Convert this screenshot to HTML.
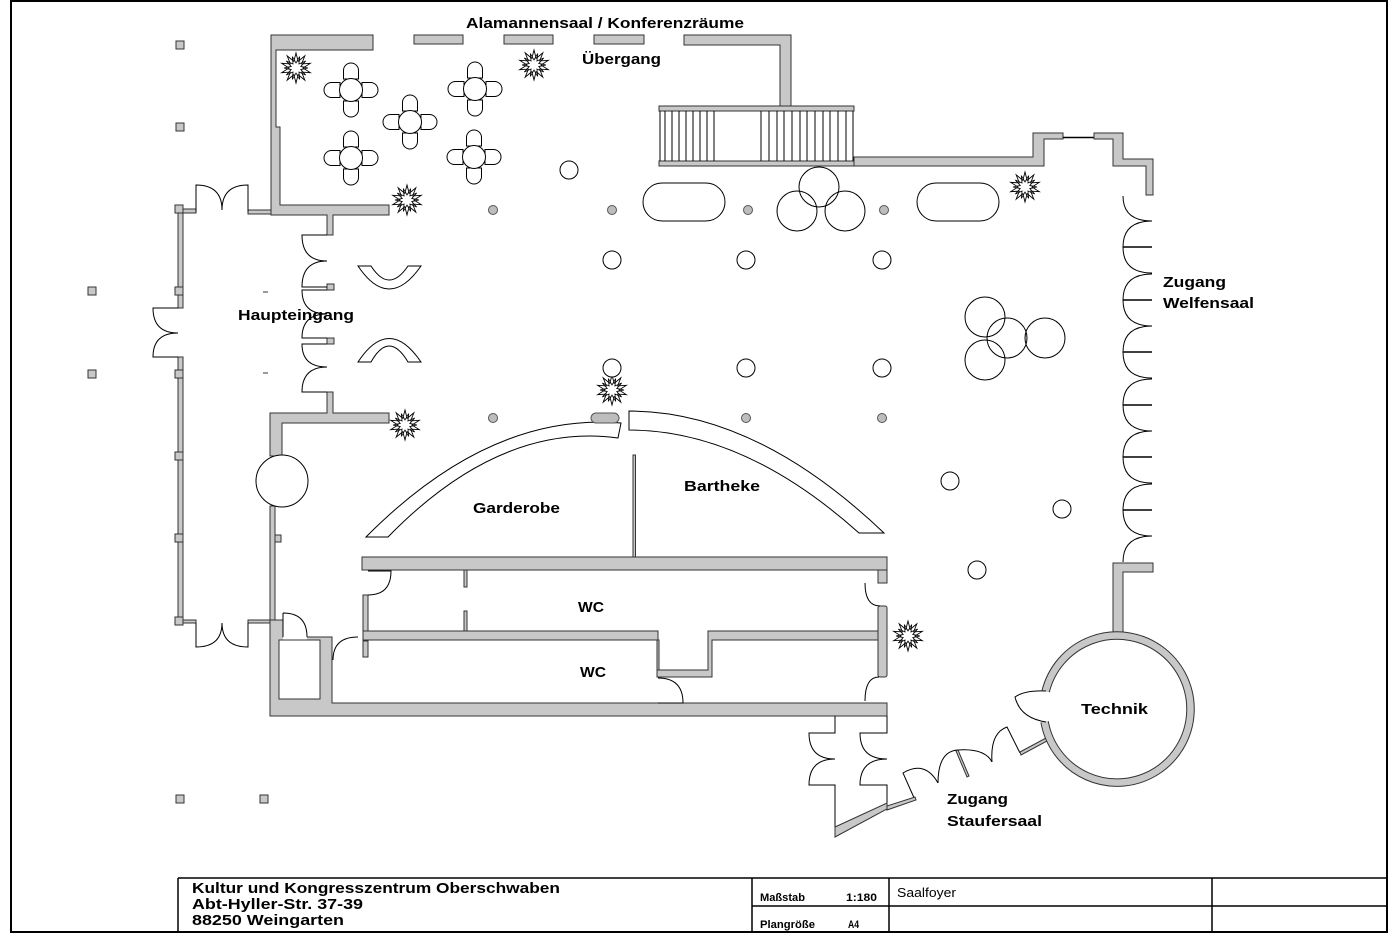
<!DOCTYPE html>
<html><head><meta charset="utf-8">
<style>
html,body{margin:0;padding:0;background:#fff;}
svg{display:block;}
text{font-family:"Liberation Sans",Arial,sans-serif;font-weight:bold;fill:#000;}
.w{fill:#c8c8c8;stroke:#333;stroke-width:1;}
.l{fill:none;stroke:#000;stroke-width:1;}
.c{fill:#fff;stroke:#000;stroke-width:1;}
.d{fill:#bdbdbd;stroke:#555;stroke-width:1;}
</style></head><body>
<svg width="1400" height="933" viewBox="0 0 1400 933" xmlns="http://www.w3.org/2000/svg">
<defs>
<g id="plant">
<polygon points="0,-15 2.16,-6.66 8.82,-12.14 5.66,-4.11 14.27,-4.64 7,0 14.27,4.64 5.66,4.11 8.82,12.14 2.16,6.66 0,15 -2.16,6.66 -8.82,12.14 -5.66,4.11 -14.27,4.64 -7,0 -14.27,-4.64 -5.66,-4.11 -8.82,-12.14 -2.16,-6.66" fill="#fff" stroke="#000" stroke-width="0.9"/>
<polygon points="3.71,-11.41 2.94,-4.05 9.71,-7.05 4.76,-1.55 12,0 4.76,1.55 9.71,7.05 2.94,4.05 3.71,11.41 0,5 -3.71,11.41 -2.94,4.05 -9.71,7.05 -4.76,1.55 -12,0 -4.76,-1.55 -9.71,-7.05 -2.94,-4.05 -3.71,-11.41 0,-5" fill="none" stroke="#000" stroke-width="0.8"/>
</g>
<path id="ch" d="M-7.5,-11 V-19.5 A7.5,7.5 0 0 1 7.5,-19.5 V-11 Z" fill="#fff" stroke="#000" stroke-width="1"/>
<g id="tbl">
<use href="#ch"/>
<use href="#ch" transform="rotate(90)"/>
<use href="#ch" transform="rotate(180)"/>
<use href="#ch" transform="rotate(270)"/>
<circle r="11.5" fill="#fff" stroke="#000" stroke-width="1"/>
</g>
</defs>

<!-- frame -->
<rect x="11" y="1" width="1376" height="931" fill="none" stroke="#000" stroke-width="2"/>

<!-- free columns -->
<g class="w">
<rect x="176" y="41" width="8" height="8"/>
<rect x="176" y="123" width="8" height="8"/>
<rect x="88" y="287" width="8" height="8"/>
<rect x="88" y="370" width="8" height="8"/>
<rect x="176" y="795" width="8" height="8"/>
<rect x="260" y="795" width="8" height="8"/>
</g>

<!-- top-left cafe walls -->
<path class="w" d="M271,35 H373 V50 H276 V127 H280 V205 H389 V215 H333 V235 H327 V215 H271 Z"/>
<rect class="w" x="248" y="210" width="23" height="4"/>
<rect class="w" x="414" y="35" width="49" height="9"/>
<rect class="w" x="504" y="35" width="49" height="9"/>
<rect class="w" x="594" y="35" width="50" height="9"/>
<path class="w" d="M684,35 H791 V106 H780 V45 H684 Z"/>

<!-- stair -->
<rect class="w" x="659" y="106" width="195" height="5"/>
<rect class="w" x="659" y="161" width="195" height="5"/>
<g class="l">
<path d="M660,111V161 M665,111V161 M672,111V161 M679,111V161 M686,111V161 M693,111V161 M700,111V161 M707,111V161 M714,111V161
M761,111V161 M769,111V161 M777,111V161 M784,111V161 M792,111V161 M800,111V161 M807,111V161 M815,111V161 M823,111V161 M830,111V161 M838,111V161 M846,111V161 M853,111V161"/>
</g>

<!-- right walls -->
<path class="w" d="M854,157 H1033 V133 H1063 V139 H1044 V166 H854 Z"/>
<line x1="1063" y1="137.5" x2="1094" y2="137.5" stroke="#000" stroke-width="1.5"/>
<path class="w" d="M1094,133 H1123 V159 H1153 V195 H1146 V166 H1113 V139 H1094 Z"/>
<path class="w" d="M1113,563 H1153 V572 H1123 V636 H1113 Z"/>

<!-- Welfensaal doors -->
<g class="l">
<path d="M1123,196 Q1123,221 1152,221"/>
<path d="M1152,221 Q1123,221 1123,247 Q1123,273 1152,273"/>
<path d="M1152,274 Q1123,274 1123,300 Q1123,326 1152,326"/>
<path d="M1152,326 Q1123,326 1123,352 Q1123,378 1152,378"/>
<path d="M1152,379 Q1123,379 1123,405 Q1123,431 1152,431"/>
<path d="M1152,431 Q1123,431 1123,457 Q1123,483 1152,483"/>
<path d="M1152,484 Q1123,484 1123,510 Q1123,536 1152,536"/>
<path d="M1152,536 Q1123,536 1123,562"/>
</g>
<g stroke="#000" stroke-width="1.6">
<line x1="1123" y1="247" x2="1152" y2="247"/>
<line x1="1123" y1="300" x2="1152" y2="300"/>
<line x1="1123" y1="352" x2="1152" y2="352"/>
<line x1="1123" y1="405" x2="1152" y2="405"/>
<line x1="1123" y1="457" x2="1152" y2="457"/>
<line x1="1123" y1="510" x2="1152" y2="510"/>
</g>

<!-- left outer wall -->
<g class="w">
<rect x="178" y="209" width="5" height="99"/>
<rect x="178" y="357" width="5" height="265"/>
<rect x="183" y="209" width="13" height="4"/>
<rect x="183" y="620" width="13" height="3"/>
<rect x="248" y="620" width="22" height="3"/>
<rect x="175" y="205" width="8" height="8"/>
<rect x="175" y="287" width="8" height="8"/>
<rect x="175" y="370" width="8" height="8"/>
<rect x="175" y="452" width="8" height="8"/>
<rect x="175" y="534" width="8" height="8"/>
<rect x="175" y="617" width="8" height="8"/>
</g>
<g class="l">
<!-- top door -->
<path d="M196,212 V185 Q222,185 222,210 M248,212 V185 Q222,185 222,210"/>
<!-- bottom door -->
<path d="M196,623 V647 Q222,647 222,623 M248,623 V647 Q222,647 222,623"/>
<!-- left entrance door -->
<path d="M178,308 H153 Q153,333 178,333 Q153,333 153,357 H178"/>
</g>

<!-- Haupteingang inner wall -->
<g class="w">
<rect x="327" y="284" width="7" height="6"/>
<rect x="327" y="338" width="7" height="6"/>
<path d="M327,392 H333 V413 H389 V423 H282 V456 H270 V413 H327 Z"/>
<rect x="270" y="506" width="5" height="114"/>
<rect x="275" y="535" width="6" height="7"/>
</g>
<g class="l">
<path d="M327,235 H302 Q302,261 327,261 Q302,261 302,287 H327"/>
<path d="M327,290 H302 Q302,314 327,314 Q302,314 302,338 H327"/>
<path d="M327,344 H302 Q302,367 327,367 Q302,367 302,392 H327"/>
</g>
<circle class="c" cx="282" cy="481" r="26"/>
<g stroke="#333" stroke-width="1"><line x1="263" y1="292" x2="268" y2="292"/><line x1="263" y1="373" x2="268" y2="373"/></g>

<!-- benches -->
<path class="c" d="M358,266 Q389,312 421,266 H408 Q389,294 371,266 Z"/>
<path class="c" d="M358,362 Q389,315 421,362 H408 Q389,330 371,362 Z"/>

<!-- lower left block + bottom wall -->
<path class="w" fill-rule="evenodd" d="M270,620 H283 V637 H332 V703 H887 V716 H270 Z M279,640 V699 H320 V640 Z"/>
<rect x="283" y="620" width="24" height="20" fill="#fff"/>
<path class="l" d="M283,613 V637 M283,613 Q307,613 307,637"/>
<line x1="279" y1="640" x2="320" y2="640" stroke="#333"/>

<!-- WC block -->
<g class="w">
<rect x="362" y="557" width="525" height="13"/>
<rect x="878" y="570" width="9" height="13"/>
<rect x="878" y="606" width="9" height="71" rx="2"/>
<rect x="363" y="595" width="5" height="37"/>
<rect x="363" y="631" width="295" height="9"/>
<path d="M708,631 H878 V640 H712 V677 H657 V670 H708 Z"/>
<rect x="657" y="640" width="2" height="30"/>
<rect x="363" y="641" width="5" height="16"/>
<rect x="464" y="570" width="3" height="17"/>
<rect x="464" y="611" width="3" height="20"/>
<rect x="633" y="455" width="2.5" height="102"/>
</g>
<g class="l">
<path d="M368,571 H391 Q391,595 368,595"/>
<path d="M333,660 Q333,637 358,637"/>
<path d="M865,583 Q865,606 880,606"/>
<path d="M879,677 Q865,677 865,701"/>
<path d="M658,678 Q683,678 683,703 H658"/>
</g>

<!-- arches -->
<path class="c" d="M366,537 Q490,412 621,423 L618,438 Q500,422 388,537 Z"/>
<path class="c" d="M629,411 Q756,411 884,533 L859,533 Q744,430 629,430 Z"/>
<rect class="d" x="591" y="413" width="28" height="10" rx="5"/>

<!-- Staufersaal corridor -->
<g class="l">
<path d="M835,716 V733 H809 Q809,759 835,759 Q809,759 809,785 H835 V837"/>
<path d="M887,716 V733 H860 Q860,759 887,759 Q860,759 860,785 H887 V805"/>
<path d="M915,800 L903,773 Q925,760 938,783"/>
<path d="M938,783 Q938,752 957,750 Q985,748 992,762"/>
<path d="M992,762 Q990,733 1007,727 L1020,753"/>
</g>
<path class="w" d="M835,827 L887,803 L887,809 L835,837 Z"/>
<path class="w" d="M887,806 L915,797 L916,800 L887,810 Z"/>
<path class="w" d="M956,751 L958,750 L969,776 L967,777 Z"/>
<path class="w" d="M1020,752 L1046,738 L1047,741 L1021,755 Z"/>

<!-- Technik -->
<path d="M1045.7,691.2 A73.5,73.5 0 1 1 1044.6,721.8" fill="none" stroke="#333" stroke-width="8.5"/>
<path d="M1045.7,691.2 A73.5,73.5 0 1 1 1044.6,721.8" fill="none" stroke="#c8c8c8" stroke-width="6.5"/>
<path class="l" d="M1046,691 Q1025,690 1015,697 Q1020,718 1046,722"/>

<!-- tables -->
<use href="#tbl" x="351" y="90"/>
<use href="#tbl" x="475" y="89"/>
<use href="#tbl" x="410" y="122"/>
<use href="#tbl" x="351" y="158"/>
<use href="#tbl" x="474" y="157"/>

<!-- plants -->
<use href="#plant" x="296" y="68"/>
<use href="#plant" x="534" y="65"/>
<use href="#plant" x="407" y="200"/>
<use href="#plant" x="405" y="425"/>
<use href="#plant" x="612" y="390"/>
<use href="#plant" x="1025" y="187"/>
<use href="#plant" x="908" y="636"/>

<!-- capsules -->
<rect class="c" x="643" y="183" width="82" height="38" rx="19"/>
<rect class="c" x="917" y="183" width="82" height="38" rx="19"/>

<!-- big circles -->
<g class="l">
<circle cx="819" cy="187" r="20"/>
<circle cx="797" cy="211" r="20"/>
<circle cx="845" cy="211" r="20"/>
<circle cx="985" cy="317" r="20"/>
<circle cx="1007" cy="338" r="20"/>
<circle cx="1045" cy="338" r="20"/>
<circle cx="985" cy="360" r="20"/>
</g>
<!-- small circles -->
<g class="c">
<circle cx="569" cy="170" r="9"/>
<circle cx="612" cy="260" r="9"/>
<circle cx="746" cy="260" r="9"/>
<circle cx="882" cy="260" r="9"/>
<circle cx="612" cy="368" r="9"/>
<circle cx="746" cy="368" r="9"/>
<circle cx="882" cy="368" r="9"/>
<circle cx="950" cy="481" r="9"/>
<circle cx="1062" cy="509" r="9"/>
<circle cx="977" cy="570" r="9"/>
</g>
<g class="d">
<circle cx="493" cy="210" r="4.5"/>
<circle cx="612" cy="210" r="4.5"/>
<circle cx="748" cy="210" r="4.5"/>
<circle cx="884" cy="210" r="4.5"/>
<circle cx="493" cy="418" r="4.5"/>
<circle cx="746" cy="418" r="4.5"/>
<circle cx="882" cy="418" r="4.5"/>
</g>

<!-- labels -->
<g font-size="15">
<text x="466" y="28" textLength="278" lengthAdjust="spacingAndGlyphs">Alamannensaal / Konferenzräume</text>
<text x="582" y="64" textLength="79" lengthAdjust="spacingAndGlyphs">Übergang</text>
<text x="238" y="320" textLength="116" lengthAdjust="spacingAndGlyphs">Haupteingang</text>
<text x="473" y="513" textLength="87" lengthAdjust="spacingAndGlyphs">Garderobe</text>
<text x="684" y="491" textLength="76" lengthAdjust="spacingAndGlyphs">Bartheke</text>
<text x="578" y="612" textLength="26" lengthAdjust="spacingAndGlyphs">WC</text>
<text x="580" y="677" textLength="26" lengthAdjust="spacingAndGlyphs">WC</text>
<text x="1163" y="287" textLength="63" lengthAdjust="spacingAndGlyphs">Zugang</text>
<text x="1163" y="308" textLength="91" lengthAdjust="spacingAndGlyphs">Welfensaal</text>
<text x="1081" y="714" textLength="67" lengthAdjust="spacingAndGlyphs">Technik</text>
<text x="947" y="804" textLength="61" lengthAdjust="spacingAndGlyphs">Zugang</text>
<text x="947" y="826" textLength="95" lengthAdjust="spacingAndGlyphs">Staufersaal</text>
</g>

<!-- title block -->
<g stroke="#000" stroke-width="1.5">
<line x1="178" y1="878" x2="1387" y2="878"/>
<line x1="178" y1="878" x2="178" y2="932"/>
<line x1="752" y1="878" x2="752" y2="932"/>
<line x1="889" y1="878" x2="889" y2="932"/>
<line x1="1212" y1="878" x2="1212" y2="932"/>
<line x1="752" y1="906" x2="1387" y2="906"/>
</g>
<g font-size="15">
<text x="192" y="893" textLength="368" lengthAdjust="spacingAndGlyphs">Kultur und Kongresszentrum Oberschwaben</text>
<text x="192" y="909" textLength="171" lengthAdjust="spacingAndGlyphs">Abt-Hyller-Str. 37-39</text>
<text x="192" y="925" textLength="152" lengthAdjust="spacingAndGlyphs">88250 Weingarten</text>
</g>
<g font-size="11">
<text x="760" y="901" textLength="45" lengthAdjust="spacingAndGlyphs">Maßstab</text>
<text x="846" y="901" textLength="31" lengthAdjust="spacingAndGlyphs">1:180</text>
<text x="760" y="928" textLength="55" lengthAdjust="spacingAndGlyphs">Plangröße</text>
<text x="848" y="928" textLength="11" lengthAdjust="spacingAndGlyphs">A4</text>
</g>
<text x="897" y="897" font-size="13" style="font-weight:normal" textLength="59" lengthAdjust="spacingAndGlyphs">Saalfoyer</text>
</svg>
</body></html>
